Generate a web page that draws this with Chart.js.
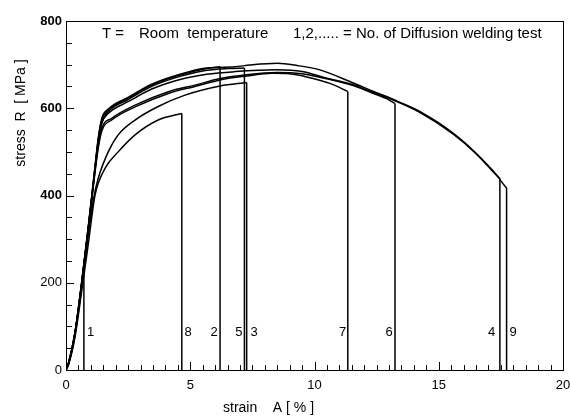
<!DOCTYPE html>
<html lang="en">
<head>
<meta charset="UTF-8">
<title>Stress-strain curves, diffusion welding tests</title>
<style>
  body { margin: 0; background: #fff; }
  #chart { display: block; }
</style>
<script src="https://cdn.jsdelivr.net/npm/chart.js@4"></script>
</head>
<body>
<canvas id="chart" width="570" height="416"></canvas>
<script>
// specimen numbers, in the order the fractures appear along the strain axis
const specimens = ['1', '8', '2', '5', '3', '7', '6', '4', '9'];
// strain [%] and stress [MPa] where each specimen broke
const fractureStrain = [0.72, 4.66, 6.2, 7.18, 7.27, 11.34, 13.24, 17.46, 17.73];
const fractureStress = [230, 588, 695, 692, 659, 638, 611, 439, 417];
// where the specimen number is written next to its fracture line
const labelStrain = [0.99, 4.91, 5.96, 6.96, 7.57, 11.13, 13.0, 17.13, 17.99];
const labelStress = 87;

// stress-strain curves: [strain %, stress MPa]
const curve1 = [[0,0],[0.1,15],[0.36,84],[0.72,230]];
const curve8 = [[0,0],[0.1,12],[0.36,75],[0.63,180],[0.9,290],[1.17,401],[1.57,462],[2.1,500],[2.78,539],[3.71,573],[4.66,588]];
const curve2 = [[0,0],[0.1,15],[0.36,84],[0.63,199],[0.9,328],[1.17,466],[1.3,530],[1.44,572],[1.7,596],[2.5,623],[3.45,653],[4.59,676],[5.66,691],[6.2,695]];
const curve5 = [[0,0],[0.1,14],[0.36,82],[0.63,196],[0.9,324],[1.17,462],[1.3,525],[1.44,566],[1.7,592],[2.5,620],[3.45,650],[4.59,673],[5.66,687],[6.5,691],[7.18,692]];
const curve3 = [[0,0],[0.1,13],[0.36,80],[0.63,190],[0.9,310],[1.1,390],[1.3,440],[1.7,500],[2.1,539],[2.78,573],[3.71,604],[4.79,630],[6.2,651],[7.27,659]];
const curve7 = [[0,0],[0.1,14],[0.36,83],[0.63,197],[0.9,325],[1.17,455],[1.3,510],[1.44,548],[1.84,573],[2.78,603],[4.12,634],[5.19,650],[6.2,665],[7.27,674],[8.3,680],[9.28,677],[9.95,668],[10.62,657],[11.0,648],[11.34,638]];
const curve6 = [[0,0],[0.1,15],[0.36,84],[0.63,198],[0.9,326],[1.17,458],[1.3,514],[1.44,554],[1.84,577],[2.78,607],[4.12,638],[5.19,653],[6.2,668],[7.27,677],[8.5,682],[9.5,679],[10.22,671],[11.56,652],[12.23,637],[12.9,622],[13.24,611]];
const curve4 = [[0,0],[0.1,15],[0.36,85],[0.63,200],[0.9,328],[1.17,463],[1.3,524],[1.44,566],[1.7,588],[2.5,615],[3.45,644],[4.59,666],[5.66,678],[6.8,684],[8.5,688],[9.5,684],[10.42,670],[11.56,654],[12.23,639],[12.9,625],[14.25,590],[15.6,540],[16.5,496],[17.33,446],[17.46,439]];
const curve9 = [[0,0],[0.1,16],[0.36,86],[0.63,201],[0.9,330],[1.17,468],[1.3,532],[1.44,577],[1.7,598],[2.5,625],[3.45,655],[4.59,678],[5.66,692],[6.8,695],[7.4,699],[8.5,703],[9.3,698],[10.22,688],[11.56,658],[12.4,638],[12.9,627],[13.3,617],[14.25,592],[15.6,542],[16.5,497],[17.33,447],[17.6,426],[17.73,417]];

const curves = [curve1, curve8, curve2, curve5, curve3, curve7, curve6, curve4, curve9];

const FONT = '"Liberation Sans", Arial, Helvetica, sans-serif';

const toPoints = arr => arr.map(p => ({x: p[0], y: p[1]}));

const datasets = [];
curves.forEach((c, i) => {
    datasets.push({
        label: 'Test ' + specimens[i],
        data: toPoints(c),
        showLine: true,
        borderColor: '#000',
        borderWidth: 1.5,
        pointRadius: 0,
        cubicInterpolationMode: 'monotone'
    });
    // vertical drop at fracture
    datasets.push({
        label: 'Fracture ' + specimens[i],
        data: [{x: fractureStrain[i], y: fractureStress[i]}, {x: fractureStrain[i], y: 0}],
        showLine: true,
        borderColor: '#000',
        borderWidth: 1.5,
        pointRadius: 0,
        tension: 0
    });
});

const frame = {
    id: 'frame',
    afterDraw(chart) {
        const {ctx, chartArea: a, scales: {x, y}} = chart;
        ctx.save();
        ctx.strokeStyle = '#000';
        ctx.lineWidth = 1;
        ctx.strokeRect(a.left + 0.5, a.top + 0.5, a.right - a.left, a.bottom - a.top);

        // ticks point inwards
        ctx.beginPath();
        for (let v = 0.5; v < 20; v += 0.5) {
            const px = Math.round(x.getPixelForValue(v)) + 0.5;
            const len = v % 5 === 0 ? 8 : 5;
            ctx.moveTo(px, a.bottom);
            ctx.lineTo(px, a.bottom - len);
        }
        for (let v = 50; v < 800; v += 50) {
            const py = Math.round(y.getPixelForValue(v)) + 0.5;
            const len = v % 200 === 0 ? 8 : 6;
            ctx.moveTo(a.left, py);
            ctx.lineTo(a.left + len, py);
        }
        ctx.stroke();

        ctx.fillStyle = '#000';
        ctx.font = '13px ' + FONT;
        ctx.textAlign = 'center';
        ctx.textBaseline = 'middle';
        specimens.forEach((s, i) => {
            ctx.fillText(s, x.getPixelForValue(labelStrain[i]), y.getPixelForValue(labelStress));
        });

        // note at the top
        ctx.font = '15px ' + FONT;
        ctx.textAlign = 'left';
        ctx.fillText('T =', a.left + 36, 34);
        ctx.fillText('Room  temperature', a.left + 73, 34);
        ctx.fillText('1,2,..... = No. of Diffusion welding test', a.left + 227, 34);

        // axis titles
        ctx.font = '14px ' + FONT;
        ctx.fillText('strain    A [ % ]', 223, 408);
        ctx.translate(21, 113);
        ctx.rotate(-Math.PI / 2);
        ctx.textAlign = 'center';
        ctx.fillText('stress  R  [ MPa ]', 0, 0);
        ctx.restore();
    }
};

new Chart(document.getElementById('chart'), {
    type: 'scatter',
    data: {datasets: datasets},
    options: {
        responsive: false,
        animation: false,
        layout: {padding: {top: 21, right: 7, left: 0, bottom: 0}},
        plugins: {legend: {display: false}, tooltip: {enabled: false}},
        scales: {
            x: {
                type: 'linear',
                min: 0,
                max: 20,
                grid: {display: false, drawTicks: false},
                border: {display: false},
                ticks: {
                    stepSize: 5,
                    padding: 8,
                    color: '#000',
                    font: {family: FONT, size: 13}
                },
                afterFit: s => { s.height = 46; s.paddingLeft = 0; s.paddingRight = 0; }
            },
            y: {
                min: 0,
                max: 800,
                grid: {display: false, drawTicks: false},
                border: {display: false},
                ticks: {
                    stepSize: 200,
                    padding: 4,
                    color: '#000',
                    font: ctx => ({family: FONT, size: 13, weight: ctx.tick && ctx.tick.value >= 400 ? 'bold' : 'normal'})
                },
                afterFit: s => { s.width = 66; s.paddingTop = 0; s.paddingBottom = 0; }
            }
        }
    },
    plugins: [frame]
});
</script>
</body>
</html>
